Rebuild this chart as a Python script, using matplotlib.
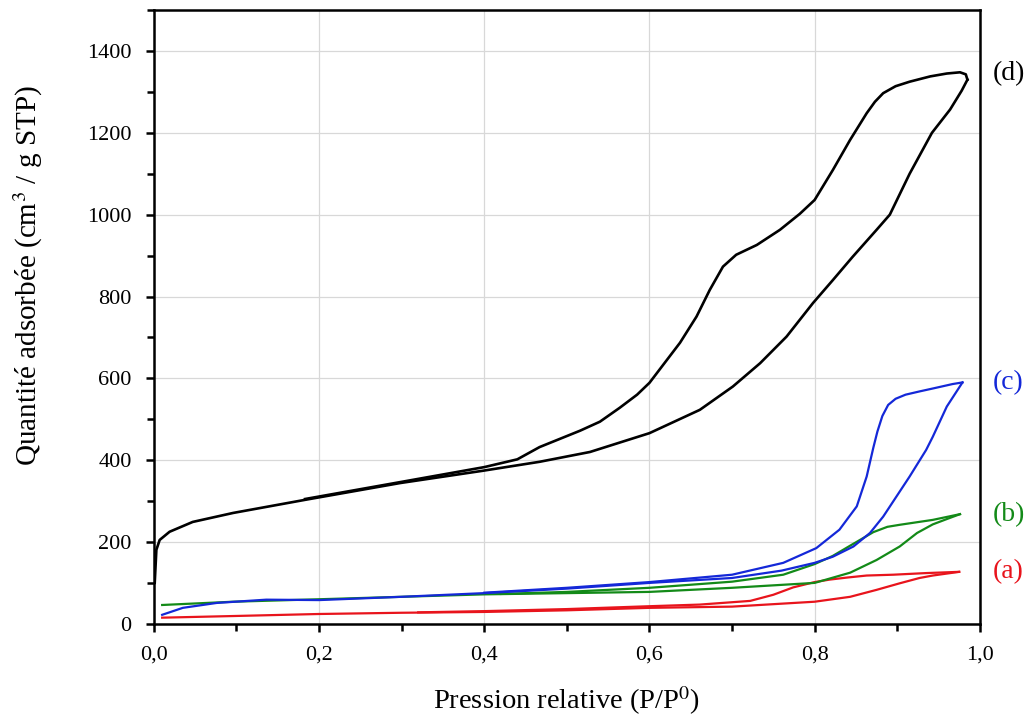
import matplotlib.pyplot as plt
from matplotlib.ticker import MultipleLocator, FuncFormatter

# (d) black
d_ads_x = [0.001, 0.003, 0.007, 0.019, 0.047, 0.096, 0.183, 0.298, 0.398, 0.467, 0.528, 0.6, 0.661,
           0.701, 0.734, 0.766, 0.798, 0.822, 0.846, 0.875, 0.891, 0.915, 0.942, 0.964, 0.978, 0.985]
d_ads_y = [100, 181, 205, 225, 249, 271, 303, 344, 374, 396, 420, 466, 523,
           580, 637, 702, 784, 840, 897, 963, 1000, 1100, 1200, 1257, 1303, 1330]
d_des_x = [0.985, 0.983, 0.976, 0.96, 0.94, 0.915, 0.898, 0.883, 0.873, 0.863, 0.843, 0.822, 0.8,
           0.782, 0.758, 0.73, 0.705, 0.689, 0.673, 0.657, 0.637, 0.6, 0.585, 0.564, 0.54, 0.516,
           0.467, 0.44, 0.4, 0.3, 0.183]
d_des_y = [1330, 1343, 1348, 1345, 1338, 1325, 1314, 1297, 1276, 1248, 1183, 1109, 1036,
           1002, 963, 926, 902, 873, 816, 751, 687, 589, 560, 528, 494, 472,
           432, 402, 383, 347, 305]

# (c) blue
c_ads_x = [0.01, 0.035, 0.076, 0.136, 0.2, 0.3, 0.4, 0.5, 0.6, 0.7, 0.76, 0.8, 0.822, 0.847, 0.867,
           0.883, 0.899, 0.915, 0.935, 0.943, 0.96, 0.979]
c_ads_y = [22, 39, 51, 59, 58, 66, 75, 86, 100, 112, 130, 149, 164, 189, 222,
           262, 311, 360, 425, 457, 531, 590]
c_des_x = [0.979, 0.967, 0.945, 0.927, 0.91, 0.898, 0.889, 0.882, 0.876, 0.871, 0.863, 0.851, 0.83,
           0.802, 0.762, 0.7, 0.6, 0.5, 0.4]
c_des_y = [590, 586, 576, 568, 560, 550, 535, 508, 470, 430, 360, 287, 230,
           185, 149, 120, 102, 88, 76]

# (b) green
b_ads_x = [0.01, 0.096, 0.2, 0.3, 0.4, 0.5, 0.6, 0.7, 0.8, 0.843, 0.875, 0.903, 0.924, 0.943, 0.96,
           0.976]
b_ads_y = [46, 54, 60, 66, 72, 75, 78, 88, 100, 125, 156, 189, 222, 243, 256, 268]
b_des_x = [0.976, 0.943, 0.903, 0.888, 0.871, 0.843, 0.822, 0.8, 0.762, 0.7, 0.6, 0.5, 0.42]
b_des_y = [268, 254, 242, 237, 224, 191, 166, 146, 120, 103, 88, 78, 73]

# (a) red
a_ads_x = [0.01, 0.096, 0.2, 0.3, 0.4, 0.5, 0.6, 0.7, 0.8, 0.843, 0.875, 0.903, 0.927, 0.943, 0.975]
a_ads_y = [15, 19, 24, 27, 29, 33, 39, 42, 54, 66, 83, 99, 112, 118, 127]
a_des_x = [0.975, 0.935, 0.895, 0.863, 0.839, 0.818, 0.8, 0.774, 0.75, 0.722, 0.661, 0.6, 0.5, 0.4, 0.32]
a_des_y = [127, 124, 120, 118, 113, 108, 102, 89, 71, 56, 47, 43, 36, 31, 28]

labels = ['(a)', '(b)', '(c)', '(d)']
label_y = [127, 268, 590, 1345]
colors = ['#e8141c', '#138a18', '#1428d8', 'black']

plt.rcParams['font.family'] = ['Liberation Serif', 'DejaVu Serif']
plt.rcParams['mathtext.fontset'] = 'stix'

fig = plt.figure(figsize=(10.26, 7.22), dpi=100)
ax = fig.add_axes([0.150, 0.136, 0.805, 0.850])

series = [(a_ads_x, a_ads_y, a_des_x, a_des_y),
          (b_ads_x, b_ads_y, b_des_x, b_des_y),
          (c_ads_x, c_ads_y, c_des_x, c_des_y),
          (d_ads_x, d_ads_y, d_des_x, d_des_y)]
for (ax_, ay_, dx_, dy_), col in zip(series, colors):
    lw = 1.9 if col == 'black' else 1.6
    ax.plot(ax_, ay_, color=col, lw=lw, solid_joinstyle='round')
    ax.plot(dx_, dy_, color=col, lw=lw, solid_joinstyle='round')

for lab, yy, col in zip(labels, label_y, colors):
    ax.text(1.016, yy, lab, color=col, fontsize=20, va='center', ha='left',
            transform=ax.get_yaxis_transform())

ax.set_xlim(0, 1.0)
ax.set_ylim(0, 1500)
ax.xaxis.set_major_locator(MultipleLocator(0.2))
ax.xaxis.set_minor_locator(MultipleLocator(0.1))
ax.yaxis.set_major_locator(MultipleLocator(200))
ax.yaxis.set_minor_locator(MultipleLocator(100))
ax.xaxis.set_major_formatter(FuncFormatter(lambda v, p: ('%.1f' % v).replace('.', ',')))
ax.yaxis.set_major_formatter(FuncFormatter(lambda v, p: '%d' % v if v <= 1400 else ''))
ax.grid(True, which='major', color='#d8d8d8', lw=0.9)
ax.set_axisbelow(True)
ax.tick_params(which='both', direction='out', width=1.8, labelsize=16, top=False, right=False)
ax.tick_params(which='major', length=6, pad=10)
ax.tick_params(which='minor', length=5)
for s in ax.spines.values():
    s.set_linewidth(1.8)

ax.set_xlabel('Pression relative (P/P$^0$)', fontsize=20.5, labelpad=14)
ax.set_ylabel('Quantité adsorbée (cm$^3$ / g STP)', fontsize=21)
ax.yaxis.set_label_coords(-0.132, 0.568)

plt.savefig('out.png')
